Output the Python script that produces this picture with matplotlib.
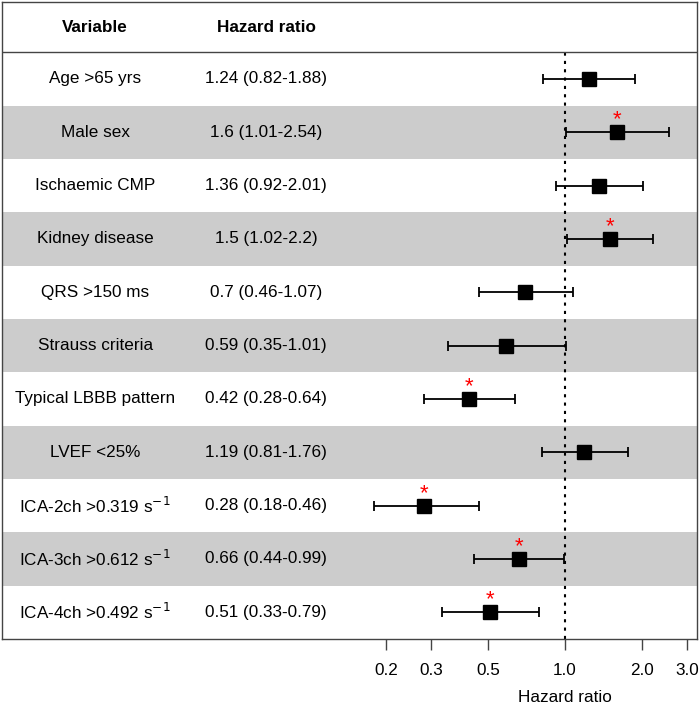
import numpy as np
import matplotlib.pyplot as plt
import matplotlib.transforms as mtransforms

plt.rcParams['font.family'] = ['Liberation Sans', 'DejaVu Sans']

# rows of the forest plot, top to bottom
variables = ['Age >65 yrs', 'Male sex', 'Ischaemic CMP', 'Kidney disease',
             'QRS >150 ms', 'Strauss criteria', 'Typical LBBB pattern',
             'LVEF <25%', r'ICA-2ch >0.319 s$^{-1}$', r'ICA-3ch >0.612 s$^{-1}$',
             r'ICA-4ch >0.492 s$^{-1}$']
hr = [1.24, 1.6, 1.36, 1.5, 0.7, 0.59, 0.42, 1.19, 0.28, 0.66, 0.51]
lower = [0.82, 1.01, 0.92, 1.02, 0.46, 0.35, 0.28, 0.81, 0.18, 0.44, 0.33]
upper = [1.88, 2.54, 2.01, 2.2, 1.07, 1.01, 0.64, 1.76, 0.46, 0.99, 0.79]
hr_text = ['1.24 (0.82-1.88)', '1.6 (1.01-2.54)', '1.36 (0.92-2.01)',
           '1.5 (1.02-2.2)', '0.7 (0.46-1.07)', '0.59 (0.35-1.01)',
           '0.42 (0.28-0.64)', '1.19 (0.81-1.76)', '0.28 (0.18-0.46)',
           '0.66 (0.44-0.99)', '0.51 (0.33-0.79)']
significant = [False, True, False, True, False, False, True, False, True, True, True]

ticks = [0.2, 0.3, 0.5, 1.0, 2.0, 3.0]
tick_labels = ['0.2', '0.3', '0.5', '1.0', '2.0', '3.0']

n = len(variables)
ypos = np.arange(n)[::-1]
fs = 12.3

fig = plt.figure(figsize=(7, 7.05), dpi=100)
ax = fig.add_axes([2 / 700, 66 / 705, 695 / 700, 637 / 705])
ax.set_xscale('log')
ax.set_xlim(0.0063, 3.28)
top = n - 0.5 + 50 / 53
ax.set_ylim(-0.5, top)

# alternating grey bands
for i, y in enumerate(ypos):
    if i % 2 == 1:
        ax.axhspan(y - 0.5, y + 0.5, color='#cccccc', zorder=0, lw=0)

ax.axhline(n - 0.5, color='#444444', lw=1)
ax.plot([1, 1], [-0.5, n - 0.5], ls=(0, (1.5, 2.5)), color='black', lw=1.5, zorder=1)

lo_err = np.array(hr) - np.array(lower)
hi_err = np.array(upper) - np.array(hr)
ax.errorbar(hr, ypos, xerr=[lo_err, hi_err], fmt='s', color='black', ms=9.5,
            elinewidth=1.3, capsize=3.5, capthick=1.3, zorder=3)

for x, y, s in zip(hr, ypos, significant):
    if s:
        ax.text(x, y + 0.13, '*', color='red', fontsize=16, ha='center',
                va='baseline', zorder=4)

trans = mtransforms.blended_transform_factory(ax.transAxes, ax.transData)
ax.text(0.134, n - 0.5 + 25 / 53, 'Variable', transform=trans, ha='center',
        va='center', fontsize=fs, fontweight='bold')
ax.text(0.380, n - 0.5 + 25 / 53, 'Hazard ratio', transform=trans, ha='center',
        va='center', fontsize=fs, fontweight='bold')
for y, v, t in zip(ypos, variables, hr_text):
    ax.text(0.134, y, v, transform=trans, ha='center', va='center', fontsize=fs)
    ax.text(0.380, y, t, transform=trans, ha='center', va='center', fontsize=fs)

ax.set_yticks([])
ax.set_xticks(ticks)
ax.set_xticklabels(tick_labels, fontsize=fs)
ax.xaxis.set_minor_locator(plt.NullLocator())
ax.tick_params(axis='x', length=8, width=1, pad=9, color='#444444')
for sp in ax.spines.values():
    sp.set_color('#444444')
    sp.set_linewidth(1)

trans2 = mtransforms.blended_transform_factory(ax.transData, fig.transFigure)
fig.text(1.0, 8 / 705, 'Hazard ratio', transform=trans2, ha='center',
         va='center', fontsize=fs)

fig.savefig('out.png', dpi=100)
